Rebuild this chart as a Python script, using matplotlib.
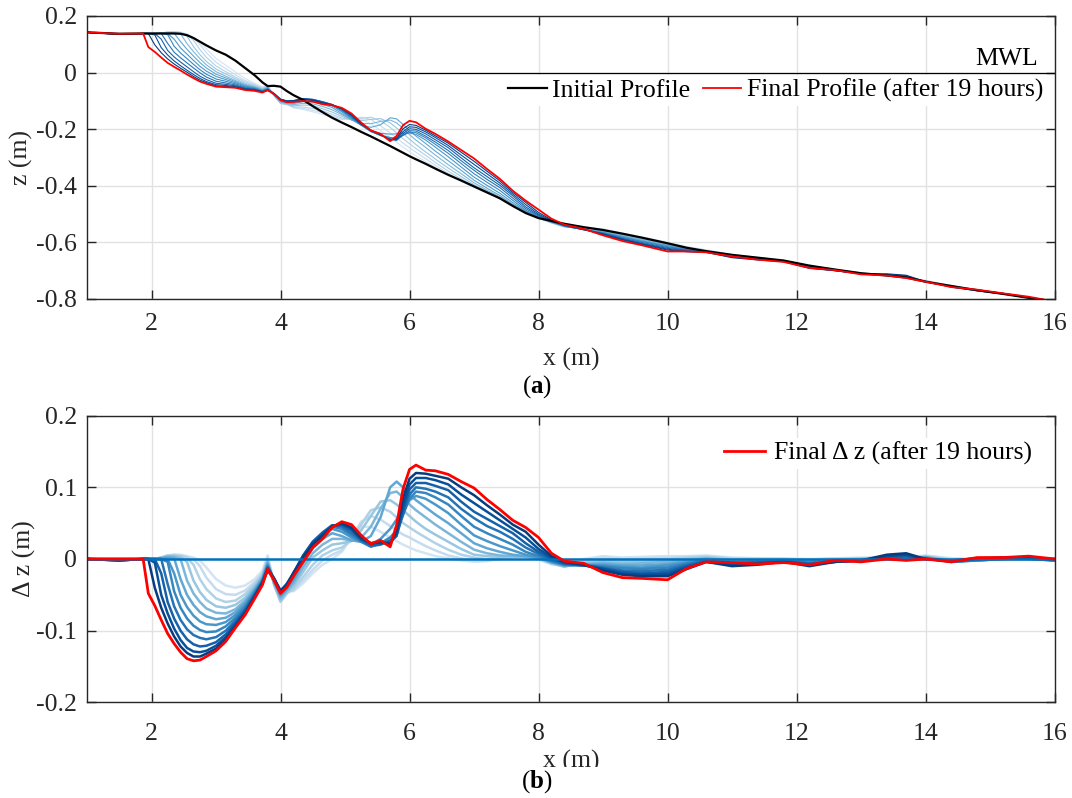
import numpy as np
import matplotlib.pyplot as plt
from matplotlib.lines import Line2D
from matplotlib.transforms import Bbox, TransformedBbox

plt.rcParams['font.family'] = ['Liberation Serif', 'DejaVu Serif']
plt.rcParams['mathtext.fontset'] = 'custom'
plt.rcParams['mathtext.rm'] = 'Liberation Serif'
plt.rcParams['mathtext.bf'] = 'Liberation Serif:bold'

# cross-shore position (m)
x_pos = [1.0, 1.5, 1.87, 1.95, 2.05, 2.15, 2.25, 2.35, 2.45, 2.55,
         2.65, 2.75, 2.85, 3.0, 3.15, 3.3, 3.45, 3.6, 3.72, 3.8,
         3.9, 4.0, 4.1, 4.2, 4.35, 4.5, 4.65, 4.8, 4.95, 5.1,
         5.25, 5.4, 5.55, 5.7, 5.8, 5.9, 6.0, 6.1, 6.25, 6.4,
         6.6, 6.8, 7.0, 7.2, 7.4, 7.6, 7.8, 8.0, 8.2, 8.4,
         8.7, 9.0, 9.3, 9.6, 10.0, 10.3, 10.6, 11.0, 11.4, 11.8,
         12.2, 12.6, 13.0, 13.4, 13.7, 14.0, 14.4, 14.8, 15.2, 15.6,
         16.0]

# initial bed level (m)
z_initial = [0.142, 0.137, 0.138, 0.138, 0.138, 0.138, 0.138, 0.138, 0.137, 0.132,
             0.122, 0.109, 0.096, 0.078, 0.063, 0.042, 0.016, -0.010, -0.035, -0.048,
             -0.047, -0.050, -0.066, -0.080, -0.097, -0.119, -0.140, -0.160, -0.177, -0.193,
             -0.210, -0.226, -0.243, -0.260, -0.272, -0.284, -0.296, -0.307, -0.323, -0.340,
             -0.362, -0.382, -0.403, -0.424, -0.445, -0.472, -0.497, -0.515, -0.525, -0.535,
             -0.547, -0.557, -0.570, -0.584, -0.604, -0.620, -0.632, -0.645, -0.655, -0.665,
             -0.683, -0.697, -0.710, -0.718, -0.725, -0.740, -0.755, -0.770, -0.783, -0.797,
             -0.810]

# bed change after 19 hours (m)
dz_final = [0.000, 0.000, 0.000, -0.048, -0.065, -0.085, -0.104, -0.118, -0.130, -0.139,
            -0.142, -0.141, -0.136, -0.128, -0.115, -0.096, -0.078, -0.055, -0.036, -0.014,
            -0.030, -0.048, -0.039, -0.024, -0.004, 0.016, 0.028, 0.044, 0.052, 0.048,
            0.033, 0.021, 0.026, 0.017, 0.048, 0.098, 0.125, 0.131, 0.124, 0.123,
            0.118, 0.108, 0.099, 0.083, 0.069, 0.054, 0.044, 0.030, 0.008, -0.003,
            -0.006, -0.019, -0.026, -0.027, -0.029, -0.013, -0.004, -0.005, -0.007, -0.005,
            -0.008, -0.002, -0.004, 0.000, -0.002, 0.000, -0.004, 0.002, 0.002, 0.004,
            0.000]

# intermediate bed changes, earliest (01) to latest (12)
dz_01 = [0.000, 0.000, 0.000, 0.000, 0.000, 0.002, 0.004, 0.006, 0.006, 0.004,
         0.002, -0.002, -0.012, -0.028, -0.037, -0.040, -0.037, -0.028, -0.016, 0.005,
         -0.033, -0.055, -0.043, -0.045, -0.034, -0.020, -0.008, 0.000, 0.010, 0.030,
         0.045, 0.045, 0.038, 0.030, 0.025, 0.020, 0.016, 0.012, 0.008, 0.004,
         0.001, -0.002, -0.004, -0.003, 0.000, 0.003, 0.003, -0.001, -0.007, -0.009,
         0.000, 0.004, 0.002, 0.003, 0.004, 0.004, 0.005, 0.002, 0.001, 0.001,
         0.000, 0.001, 0.002, 0.002, 0.002, 0.005, 0.001, 0.000, 0.001, 0.002,
         0.001]
dz_02 = [0.000, 0.000, 0.000, 0.000, 0.000, 0.002, 0.005, 0.006, 0.005, 0.003,
         0.000, -0.010, -0.026, -0.042, -0.049, -0.050, -0.044, -0.032, -0.019, 0.002,
         -0.035, -0.058, -0.046, -0.044, -0.030, -0.015, -0.002, 0.006, 0.012, 0.030,
         0.052, 0.060, 0.055, 0.046, 0.040, 0.034, 0.030, 0.025, 0.018, 0.012,
         0.005, 0.001, -0.002, -0.002, 0.001, 0.004, 0.004, 0.000, -0.007, -0.010,
         -0.002, 0.002, 0.000, 0.001, 0.002, 0.003, 0.004, 0.001, 0.001, 0.000,
         -0.001, 0.001, 0.001, 0.002, 0.001, 0.004, 0.000, 0.000, 0.001, 0.002,
         0.000]
dz_03 = [0.000, 0.000, 0.000, 0.000, 0.000, 0.002, 0.005, 0.005, 0.004, 0.002,
         -0.008, -0.028, -0.042, -0.055, -0.060, -0.058, -0.049, -0.035, -0.021, 0.000,
         -0.036, -0.060, -0.048, -0.042, -0.025, -0.008, 0.005, 0.012, 0.016, 0.026,
         0.048, 0.068, 0.072, 0.066, 0.058, 0.050, 0.044, 0.038, 0.030, 0.022,
         0.013, 0.006, 0.002, 0.000, 0.002, 0.004, 0.004, 0.001, -0.006, -0.011,
         -0.004, -0.001, -0.002, -0.002, 0.000, 0.002, 0.003, 0.000, 0.000, 0.000,
         -0.001, 0.000, 0.001, 0.001, 0.001, 0.004, -0.001, -0.001, 0.001, 0.001,
         0.000]
dz_04 = [0.000, 0.000, 0.000, 0.000, 0.000, 0.002, 0.004, 0.004, 0.003, -0.004,
         -0.030, -0.046, -0.057, -0.066, -0.068, -0.064, -0.054, -0.038, -0.023, -0.002,
         -0.035, -0.058, -0.046, -0.038, -0.018, 0.002, 0.012, 0.020, 0.022, 0.025,
         0.040, 0.060, 0.080, 0.082, 0.076, 0.068, 0.060, 0.052, 0.042, 0.034,
         0.024, 0.014, 0.006, 0.004, 0.003, 0.003, 0.004, 0.001, -0.006, -0.010,
         -0.006, -0.003, -0.004, -0.004, -0.002, 0.000, 0.002, -0.001, -0.001, -0.001,
         -0.002, -0.001, 0.000, 0.001, 0.001, 0.003, -0.002, -0.001, 0.001, 0.001,
         -0.001]
dz_05 = [0.000, 0.000, 0.000, 0.000, 0.000, 0.001, 0.003, 0.003, 0.000, -0.030,
         -0.048, -0.060, -0.069, -0.075, -0.076, -0.070, -0.058, -0.041, -0.025, -0.004,
         -0.034, -0.055, -0.044, -0.034, -0.012, 0.008, 0.020, 0.028, 0.028, 0.026,
         0.030, 0.045, 0.070, 0.092, 0.094, 0.086, 0.076, 0.068, 0.058, 0.048,
         0.036, 0.024, 0.013, 0.008, 0.005, 0.004, 0.003, 0.002, -0.005, -0.010,
         -0.007, -0.005, -0.007, -0.006, -0.004, -0.002, 0.001, -0.002, -0.002, -0.001,
         -0.002, -0.001, 0.000, 0.001, 0.000, 0.003, -0.003, -0.002, 0.000, 0.001,
         -0.001]
dz_06 = [0.000, 0.000, 0.000, 0.000, 0.000, 0.001, 0.002, 0.001, -0.028, -0.050,
         -0.064, -0.074, -0.080, -0.084, -0.082, -0.074, -0.061, -0.043, -0.027, -0.006,
         -0.032, -0.052, -0.042, -0.030, -0.006, 0.015, 0.028, 0.036, 0.032, 0.026,
         0.024, 0.032, 0.058, 0.100, 0.108, 0.100, 0.090, 0.082, 0.072, 0.062,
         0.050, 0.036, 0.022, 0.015, 0.010, 0.006, 0.004, 0.002, -0.004, -0.009,
         -0.008, -0.007, -0.009, -0.009, -0.007, -0.003, 0.000, -0.003, -0.002, -0.002,
         -0.003, -0.002, -0.001, 0.000, 0.000, 0.002, -0.003, -0.002, 0.000, 0.001,
         -0.002]
dz_07 = [0.000, -0.001, 0.000, 0.000, 0.000, 0.000, 0.000, -0.020, -0.050, -0.067,
         -0.079, -0.087, -0.091, -0.092, -0.088, -0.078, -0.064, -0.045, -0.029, -0.008,
         -0.030, -0.050, -0.040, -0.027, 0.000, 0.021, 0.034, 0.042, 0.038, 0.030,
         0.024, 0.020, 0.028, 0.042, 0.055, 0.070, 0.082, 0.088, 0.084, 0.076,
         0.064, 0.048, 0.033, 0.025, 0.018, 0.012, 0.006, 0.002, -0.004, -0.008,
         -0.009, -0.009, -0.011, -0.012, -0.009, -0.005, -0.001, -0.004, -0.003, -0.002,
         -0.004, -0.002, -0.001, 0.001, 0.000, 0.002, -0.004, -0.002, 0.000, 0.000,
         -0.002]
dz_08 = [0.000, -0.001, 0.000, 0.000, 0.000, 0.000, -0.004, -0.045, -0.068, -0.083,
         -0.093, -0.099, -0.102, -0.101, -0.094, -0.082, -0.067, -0.047, -0.030, -0.010,
         -0.029, -0.048, -0.038, -0.024, 0.003, 0.023, 0.036, 0.045, 0.042, 0.033,
         0.024, 0.017, 0.022, 0.030, 0.040, 0.062, 0.084, 0.094, 0.092, 0.086,
         0.076, 0.060, 0.045, 0.036, 0.028, 0.020, 0.010, 0.004, -0.003, -0.008,
         -0.009, -0.010, -0.013, -0.014, -0.012, -0.006, -0.002, -0.005, -0.004, -0.002,
         -0.005, -0.003, -0.002, 0.001, 0.001, 0.001, -0.004, -0.002, 0.000, 0.000,
         -0.002]
dz_09 = [0.000, -0.001, 0.000, 0.000, 0.000, 0.000, -0.035, -0.066, -0.085, -0.098,
         -0.106, -0.110, -0.112, -0.109, -0.100, -0.086, -0.070, -0.049, -0.031, -0.011,
         -0.028, -0.046, -0.036, -0.022, 0.004, 0.024, 0.037, 0.047, 0.045, 0.036,
         0.026, 0.018, 0.020, 0.026, 0.034, 0.062, 0.090, 0.100, 0.098, 0.094,
         0.086, 0.070, 0.057, 0.046, 0.038, 0.028, 0.016, 0.007, -0.002, -0.007,
         -0.009, -0.012, -0.016, -0.017, -0.015, -0.008, -0.002, -0.006, -0.004, -0.003,
         -0.006, -0.003, -0.002, 0.002, 0.002, 0.001, -0.004, -0.001, 0.001, 0.001,
         -0.002]
dz_10 = [0.000, -0.002, 0.000, 0.000, 0.000, -0.020, -0.060, -0.083, -0.100, -0.112,
         -0.119, -0.122, -0.121, -0.116, -0.105, -0.089, -0.072, -0.050, -0.032, -0.012,
         -0.027, -0.045, -0.034, -0.020, 0.005, 0.024, 0.036, 0.047, 0.047, 0.040,
         0.027, 0.020, 0.021, 0.024, 0.032, 0.068, 0.097, 0.106, 0.106, 0.102,
         0.096, 0.080, 0.066, 0.056, 0.046, 0.036, 0.022, 0.010, 0.000, -0.006,
         -0.009, -0.013, -0.018, -0.020, -0.018, -0.010, -0.003, -0.007, -0.005, -0.003,
         -0.007, -0.004, -0.002, 0.003, 0.004, 0.000, -0.003, 0.000, 0.001, 0.001,
         -0.001]
dz_11 = [0.000, -0.002, 0.000, 0.000, -0.005, -0.050, -0.076, -0.097, -0.113, -0.124,
         -0.129, -0.130, -0.128, -0.121, -0.109, -0.092, -0.074, -0.052, -0.033, -0.014,
         -0.027, -0.044, -0.035, -0.019, 0.004, 0.022, 0.034, 0.046, 0.049, 0.042,
         0.028, 0.022, 0.023, 0.022, 0.036, 0.075, 0.104, 0.113, 0.113, 0.110,
         0.104, 0.090, 0.078, 0.066, 0.054, 0.042, 0.030, 0.014, 0.002, -0.005,
         -0.008, -0.014, -0.020, -0.022, -0.021, -0.012, -0.004, -0.008, -0.006, -0.004,
         -0.008, -0.004, -0.002, 0.004, 0.006, 0.000, -0.003, 0.000, 0.002, 0.002,
         -0.001]
dz_12 = [0.000, -0.002, 0.000, 0.000, -0.040, -0.068, -0.090, -0.108, -0.122, -0.131,
         -0.136, -0.136, -0.132, -0.125, -0.112, -0.094, -0.076, -0.053, -0.034, -0.016,
         -0.028, -0.045, -0.036, -0.020, 0.002, 0.020, 0.032, 0.045, 0.050, 0.044,
         0.030, 0.022, 0.024, 0.020, 0.040, 0.085, 0.112, 0.120, 0.119, 0.116,
         0.112, 0.100, 0.089, 0.075, 0.062, 0.048, 0.038, 0.020, 0.004, -0.004,
         -0.008, -0.016, -0.022, -0.024, -0.024, -0.014, -0.004, -0.010, -0.008, -0.004,
         -0.010, -0.004, -0.002, 0.006, 0.008, 0.000, -0.002, 0.001, 0.002, 0.002,
         0.000]

# shoreline position where the initial profile crosses MWL
mwl_start = 3.58

x_ticks = [2, 4, 6, 8, 10, 12, 14, 16]
z_ticks = [-0.8, -0.6, -0.4, -0.2, 0, 0.2]
dz_ticks = [-0.2, -0.1, 0, 0.1, 0.2]

x = np.array(x_pos)
z0 = np.array(z_initial)
steps = [dz_01, dz_02, dz_03, dz_04, dz_05, dz_06,
         dz_07, dz_08, dz_09, dz_10, dz_11, dz_12]
blues = plt.cm.Blues(np.linspace(0.18, 0.95, len(steps)))
AX_COLOR = '#262626'
FS = 18.5


def style_axes(ax, yticks):
    ax.set_xlim(1, 16)
    ax.set_xticks(x_ticks)
    ax.set_xticklabels([str(t) for t in x_ticks])
    ax.set_yticks(yticks)
    ax.set_yticklabels(['%g' % t for t in yticks])
    ax.grid(True, color='#e2e2e2', linewidth=1.0)
    ax.set_axisbelow(True)
    ax.tick_params(direction='in', top=True, right=True, length=6.5, width=1.0,
                   color=AX_COLOR, labelcolor=AX_COLOR, labelsize=FS, pad=7)
    for s in ax.spines.values():
        s.set_color(AX_COLOR)
        s.set_linewidth(1.0)


fig = plt.figure(figsize=(10.72, 7.98), dpi=100)
ax1 = fig.add_axes([0.0812, 0.6257, 0.9025, 0.3543])
ax2 = fig.add_axes([0.0812, 0.1198, 0.9025, 0.3594])

# (a) profiles
for i, dz in enumerate(steps):
    ax1.plot(x, z0 + np.array(dz), color=blues[i], lw=0.8)
ax1.hlines(0, mwl_start, 16, color='black', lw=0.9)
ax1.plot(x, z0, color='black', lw=1.6, label='Initial Profile')
ax1.plot(x, z0 + np.array(dz_final), color='red', lw=1.3,
         label='Final Profile (after 19 hours)')
style_axes(ax1, z_ticks)
ax1.set_ylim(-0.8, 0.2)
ax1.text(15.75, 0.008, 'MWL', ha='right', va='bottom', fontsize=FS, color='black')
leg = ax1.legend(loc='upper right', bbox_to_anchor=(0.992, 0.791), ncol=2,
                 fontsize=FS, handlelength=1.5, handletextpad=0.2, columnspacing=0.5,
                 borderpad=0.15, borderaxespad=0, fancybox=False, framealpha=1)
leg.get_frame().set_edgecolor('none')
ax1.set_xlabel('x (m)', fontsize=FS, color=AX_COLOR)
ax1.xaxis.set_label_coords(0.5, -0.175)
ax1.set_ylabel('z (m)', fontsize=FS, color=AX_COLOR)
ax1.yaxis.set_label_coords(-0.056, 0.5)

# (b) bed level change
for i, dz in enumerate(steps):
    ax2.plot(x, dz, color=blues[i], lw=1.8)
ax2.plot(x, z0 - z0, color='#0072BD', lw=1.8)
ax2.plot(x, dz_final, color='red', lw=2.0)
style_axes(ax2, dz_ticks)
ax2.set_ylim(-0.2, 0.2)
leg2 = ax2.legend([Line2D([], [], color='red', lw=2.0)], ['Final Δ z (after 19 hours)'],
                  loc='upper right', bbox_to_anchor=(0.981, 0.922), fontsize=FS,
                  handlelength=1.6, handletextpad=0.35, borderpad=0.15,
                  borderaxespad=0, fancybox=False, framealpha=1)
leg2.get_frame().set_edgecolor('none')
xl = ax2.set_xlabel('x (m)', fontsize=FS, color=AX_COLOR)
ax2.xaxis.set_label_coords(0.5, -0.165)
xl.set_clip_box(TransformedBbox(Bbox.from_extents(0, 0.0388, 1, 1), fig.transFigure))
xl.set_clip_on(True)
ax2.set_ylabel('Δ z (m)', fontsize=FS, color=AX_COLOR)
ax2.yaxis.set_label_coords(-0.053, 0.5)

# x tick labels of (b) sit further from the axis than those of (a)
ax1.tick_params(axis='x', which='major', pad=10)
ax2.tick_params(axis='x', which='major', pad=15)

fig.text(0.501, 0.515, r'$(\mathbf{a})$', ha='center', va='center', fontsize=18)
fig.text(0.501, 0.020, r'$(\mathbf{b})$', ha='center', va='center', fontsize=18)

fig.savefig('out.png', dpi=100)
